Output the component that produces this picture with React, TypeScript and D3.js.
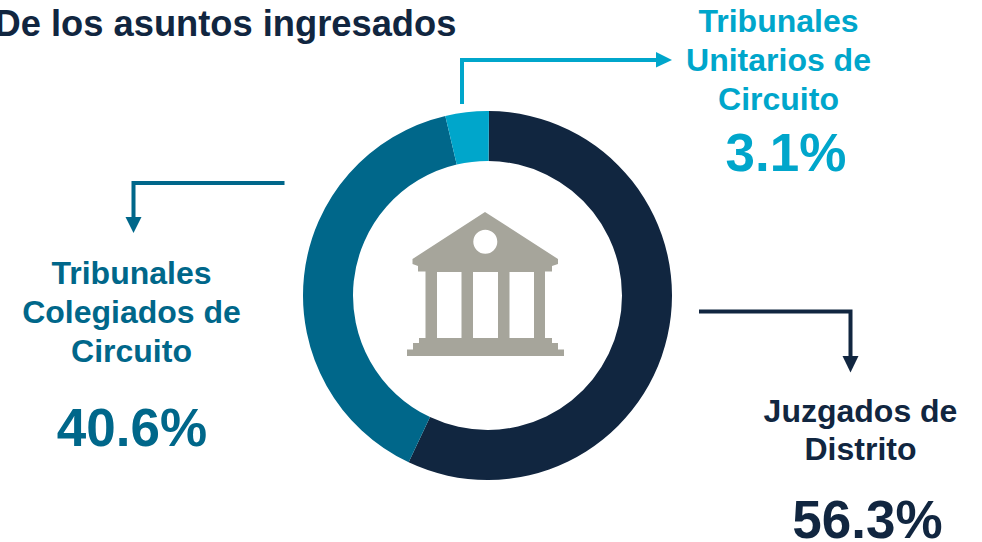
import React from "react";
import * as d3 from "d3";

const categories = ["Juzgados de Distrito", "Tribunales Colegiados de Circuito", "Tribunales Unitarios de Circuito"];
const labelValues = ["56.3%", "40.6%", "3.1%"];
const drawnShares = [56.9, 39.3, 3.8];
const colors = ["#112640", "#00678A", "#00A6CB"];
const titleText = "De los asuntos ingresados";

const W = 982, H = 542;
const cx = 487.5, cy = 295.5, rOuter = 184.5, rInner = 134.5;
const font = "'Liberation Sans', Arial, sans-serif";
const startAngle = 0.008;

const pie = d3.pie<number>().sort(null).value((d) => d).startAngle(startAngle).endAngle(startAngle + 2 * Math.PI);
const arc = d3.arc<d3.PieArcDatum<number>>().innerRadius(rInner).outerRadius(rOuter);

const labels = [
  { lines: ["Juzgados de", "Distrito"], x: 860.5, y0: 422, step: 38, px: 867.5, py: 537.5, ps: 53 },
  { lines: ["Tribunales", "Colegiados de", "Circuito"], x: 131.5, y0: 284, step: 39, px: 132, py: 445.5, ps: 53 },
  { lines: ["Tribunales", "Unitarios de", "Circuito"], x: 778.5, y0: 32, step: 39, px: 786, py: 171, ps: 53 },
];

const leaders = [
  { d: "M699 311.5H850.5V358", tip: "M842.5 356H858.5L850.5 372.5Z" },
  { d: "M284.5 183H133.5V218", tip: "M125.5 217H141.5L133.5 233Z" },
  { d: "M462 104V60H657", tip: "M656 52V67.5L672 60Z" },
];

const iconPath =
  "M485 212 L558 259 V264 L552 266 V271.5 H545 V338 H552 V343 H558 V349.5 H564 V356 H407 V349.5 H413 V343 H419 V338 H425.5 V271.5 H418 V266 L412.5 264 V259 Z " +
  "M437 272 V338 H461.5 V272 Z M473 272 V338 H498 V272 Z M509.5 272 V338 H534 V272 Z " +
  "M485.3 229.7 A12 12 0 1 0 485.3 253.7 A12 12 0 1 0 485.3 229.7 Z";

export default function App() {
  const arcs = pie(drawnShares);
  return (
    <svg width={W} height={H} style={{ position: "absolute", left: 0, top: 0, background: "#fff" }} fontFamily={font}>
      <text x={-5.5} y={35.5} fontSize={36.3} fontWeight={700} fill={colors[0]}>{titleText}</text>
      <g transform={`translate(${cx},${cy})`}>
        {arcs.map((a, i) => <path key={categories[i]} d={arc(a) || ""} fill={colors[i]} />)}
      </g>
      <path d={iconPath} fill="#A6A59B" fillRule="evenodd" />
      {leaders.map((l, i) => (
        <g key={i}>
          <path d={l.d} fill="none" stroke={colors[i]} strokeWidth={4} />
          <path d={l.tip} fill={colors[i]} />
        </g>
      ))}
      {labels.map((l, i) => (
        <g key={i} textAnchor="middle" fill={colors[i]} fontWeight={700}>
          {l.lines.map((t, j) => (
            <text key={j} x={l.x} y={l.y0 + j * l.step} fontSize={32}>{t}</text>
          ))}
          <text x={l.px} y={l.py} fontSize={l.ps}>{labelValues[i]}</text>
        </g>
      ))}
    </svg>
  );
}
